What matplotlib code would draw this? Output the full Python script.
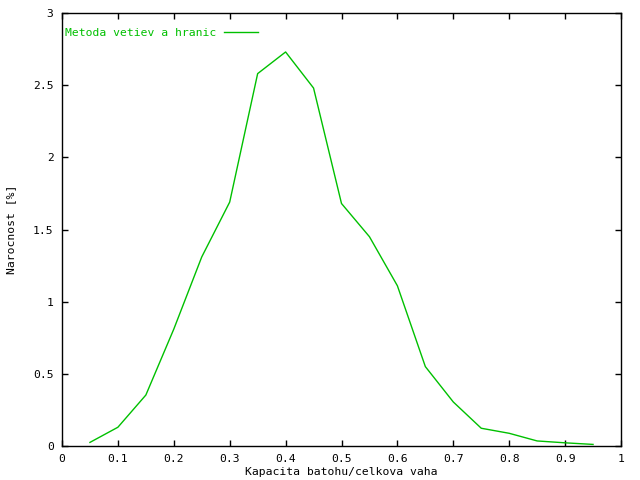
import matplotlib
matplotlib.use("Agg")
import matplotlib.pyplot as plt

x = [0.05, 0.10, 0.15, 0.20, 0.25, 0.30, 0.35, 0.40, 0.45, 0.50,
     0.55, 0.60, 0.65, 0.70, 0.75, 0.80, 0.85, 0.90, 0.95]
y = [0.025, 0.13, 0.353, 0.81, 1.31, 1.69, 2.58, 2.73, 2.48, 1.68,
     1.45, 1.11, 0.55, 0.305, 0.123, 0.088, 0.035, 0.022, 0.011]
xticks = [0, 0.1, 0.2, 0.3, 0.4, 0.5, 0.6, 0.7, 0.8, 0.9, 1]
xticklabels = ["0", "0.1", "0.2", "0.3", "0.4", "0.5", "0.6", "0.7", "0.8", "0.9", "1"]
yticks = [0, 0.5, 1, 1.5, 2, 2.5, 3]
yticklabels = ["0", "0.5", "1", "1.5", "2", "2.5", "3"]

plt.rcParams['font.family'] = ['DejaVu Sans Mono']
fs = 8.2
green = '#00c000'

fig = plt.figure(figsize=(6.4, 4.8), dpi=100)
ax = fig.add_axes([62/640, 1-446/480, (621-62)/640, (446-13)/480])
ax.plot(x, y, color=green, lw=1.0, label='Metoda vetiev a hranic')
ax.set_xlim(0, 1)
ax.set_ylim(0, 3)
ax.set_xticks(xticks)
ax.set_xticklabels(xticklabels, fontsize=fs)
ax.set_yticks(yticks)
ax.set_yticklabels(yticklabels, fontsize=fs)
ax.tick_params(direction='in', length=4, width=1, top=True, right=True, pad=6)
for s in ax.spines.values():
    s.set_linewidth(1)
ax.set_xlabel('Kapacita batohu/celkova vaha', fontsize=fs, labelpad=2)
ax.set_ylabel('Narocnost [%]', fontsize=fs, labelpad=12)
leg = ax.legend(loc='upper left', frameon=False, markerfirst=False, fontsize=fs,
                labelcolor=green, handlelength=3.0, borderaxespad=0.0,
                handletextpad=0.7, borderpad=0.0,
                bbox_to_anchor=(3/559, 1-15/433))
fig.savefig('out.png', dpi=100)
